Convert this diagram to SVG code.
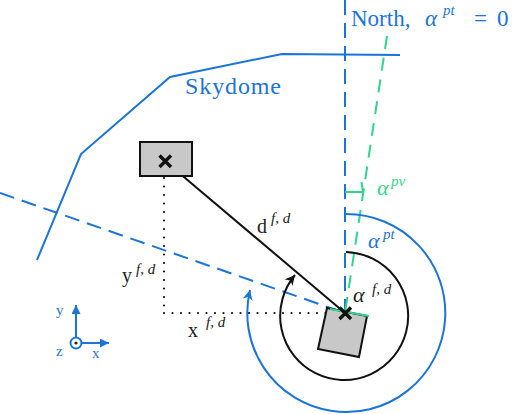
<svg xmlns="http://www.w3.org/2000/svg" width="512" height="414" viewBox="0 0 512 414">
<style>
.bl{stroke:#1b74d8;fill:none;stroke-width:2}
.gr{stroke:#2fd68a;fill:none;stroke-width:2}
.bk{stroke:#111;fill:none;stroke-width:2}
.dash{stroke-dasharray:15 8}
.gdash{stroke-dasharray:13 9}
.dot{stroke:#111;stroke-width:2.2;stroke-linecap:round;stroke-dasharray:0 8.5;fill:none}
.cross{stroke:#111;stroke-width:3.4;fill:none}
text{font-family:"Liberation Serif","DejaVu Serif",serif}
.tb{fill:#1b74d8}
.tg{fill:#2fd68a}
.tk{fill:#222}
.it{font-style:italic}
.sup{font-size:15px;font-style:italic}
</style>
<defs>
<marker id="ab" markerUnits="userSpaceOnUse" markerWidth="12" markerHeight="10" refX="10" refY="5" orient="auto"><path d="M0,0 L10,5 L0,10 L3,5 Z" fill="#1b74d8"/></marker>
<marker id="ak" markerUnits="userSpaceOnUse" markerWidth="12" markerHeight="10" refX="10" refY="5" orient="auto"><path d="M0,0 L10,5 L0,10 L3,5 Z" fill="#111"/></marker>
<marker id="ax" markerUnits="userSpaceOnUse" markerWidth="12" markerHeight="10" refX="9" refY="4.5" orient="auto"><path d="M0,0 L9,4.5 L0,9 Z" fill="#1b74d8"/></marker>
</defs>

<g id="skydome">
<polyline class="bl" points="37,260 81,154 170,77 282,54 400,55"/>
<text class="tb" x="185" y="94" font-size="24" textLength="96" lengthAdjust="spacing">Skydome</text>
</g>

<g id="connectors">
<line id="north" class="bl dash" x1="345" y1="0" x2="345" y2="313"/>
<line id="heading" class="bl dash" x1="0" y1="193" x2="345" y2="313"/>
<line id="pv" class="gr gdash" x1="387" y1="36" x2="345" y2="313"/>
<polyline id="right-angle" class="gr" points="345,192 363,192 361.5,182"/>
<path id="arc-pt" class="bl" d="M346 214 A99 99 0 1 1 250 290" marker-end="url(#ab)"/>
<path id="arc-fd" class="bk" d="M346 252 A64 64 0 1 1 295 275" marker-end="url(#ak)"/>
<line id="distance" class="bk" x1="165" y1="161" x2="345" y2="313"/>
<line id="dy" class="dot" x1="164" y1="178" x2="164" y2="313"/>
<line id="dx" class="dot" x1="164" y1="313" x2="345" y2="313"/>
</g>

<g id="source">
<rect x="140" y="142" width="52" height="34" fill="#c8c8c8" stroke="#111" stroke-width="2"/>
<path class="cross" d="M159.5 155.5 L171 167 M171 155.5 L159.5 167"/>
</g>

<g id="tracker">
<polygon points="327,308 367,316 359,357 318,349" fill="#c8c8c8" stroke="#111" stroke-width="2"/>
<line class="gr" x1="330" y1="309" x2="369" y2="316"/>
<path class="cross" d="M339.5 307.5 L351 319 M351 307.5 L339.5 319"/>
</g>

<g id="labels">
<text class="tb" y="26" font-size="23"><tspan x="351">North,</tspan><tspan x="425" class="it">α</tspan><tspan x="443" y="15" class="sup">pt</tspan><tspan x="474" y="26">=</tspan><tspan x="497" y="26">0</tspan></text>
<text class="tg" y="195" font-size="22"><tspan x="377" class="it">α</tspan><tspan x="391" y="186" class="sup">pv</tspan></text>
<text class="tb" y="248" font-size="22"><tspan x="368" class="it">α</tspan><tspan x="383" y="239" class="sup">pt</tspan></text>
<text class="tk" y="302" font-size="22"><tspan x="353" class="it">α</tspan><tspan x="372" y="294" class="sup">f, d</tspan></text>
<text class="tk" y="233" font-size="20"><tspan x="257">d</tspan><tspan x="271" y="223" class="sup">f, d</tspan></text>
<text class="tk" y="282" font-size="20"><tspan x="122">y</tspan><tspan x="136" y="274" class="sup">f, d</tspan></text>
<text class="tk" y="337" font-size="20"><tspan x="188">x</tspan><tspan x="206" y="327" class="sup">f, d</tspan></text>
</g>

<g id="axes">
<line class="bl" x1="76" y1="337" x2="76" y2="305" marker-end="url(#ax)"/>
<line class="bl" x1="82" y1="343" x2="109" y2="343" marker-end="url(#ax)"/>
<circle cx="76" cy="343" r="5.5" fill="#fff" stroke="#1b74d8" stroke-width="2"/>
<circle cx="76" cy="343" r="1.6" fill="#222"/>
<text class="tb" x="56" y="315" font-size="15">y</text>
<text class="tb" x="56" y="356" font-size="15">z</text>
<text class="tb" x="92" y="358" font-size="15">x</text>
</g>
</svg>
